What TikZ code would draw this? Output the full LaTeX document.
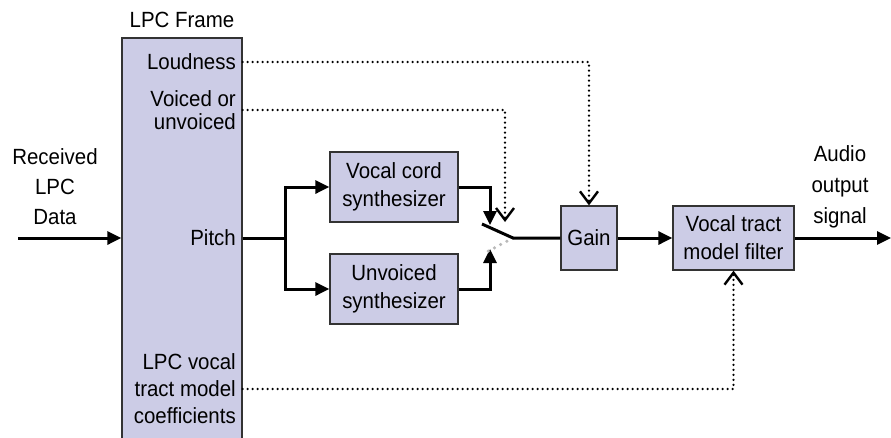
\documentclass[tikz,border=0pt]{standalone}
\usepackage{fontspec}
\setmainfont{Liberation Sans}[FakeStretch=0.93]
\usetikzlibrary{arrows.meta}
\definecolor{lpcblue}{RGB}{204,204,230}
\tikzset{
	block/.style={draw=black!80,line width=1.3pt,fill=lpcblue},	% boxes
	txt/.style={font=\fontsize{22}{28}\selectfont,align=center,inner sep=0pt},
	wire/.style={line width=3pt},				% solid signal path
	sig/.style={line width=2.6pt,line cap=round,dash pattern=on 0pt off 5pt},	% control lines
	tip/.style={-{Triangle[length=14pt,width=13pt]}},
	vtip/.style={-{Straight Barb[length=12pt,width=18pt,line width=2.4pt]}}
}

\begin{document}
\begin{tikzpicture}[x=1pt,y=-1pt]
	\useasboundingbox (0,0) rectangle (891,437);
	% LPC frame, runs off the bottom of the page
	\node[block,minimum width=120,minimum height=407,inner sep=0pt] (frame) at (182,241.5) {};
	\node[txt] (title) at (182,20) {LPC Frame};
	\node[txt,anchor=east] (loud) at (236,62) {Loudness};
	\node[txt,anchor=east,align=right,font=\fontsize{22}{23}\selectfont] (voiced) at (236,110) {Voiced or\\unvoiced};
	\node[txt,anchor=east] (pitch) at (236,238) {Pitch};
	\node[txt,anchor=east,align=right,font=\fontsize{22}{27}\selectfont] (coef) at (236,389) {LPC vocal\\tract model\\coefficients};
	% input
	\node[txt,font=\fontsize{22}{30}\selectfont] (recv) at (55,187) {Received\\LPC\\Data};
	\coordinate (rx) at (18,238);
	\draw[wire,tip] (rx) -- (frame.west |- rx);
	% synthesizers
	\node[block,txt,minimum width=128,minimum height=70] (vocal) at (394,187) {Vocal cord\\synthesizer};
	\node[block,txt,minimum width=128,minimum height=70] (unvoiced) at (394,289) {Unvoiced\\synthesizer};
	\coordinate (fork) at (285,238);
	\draw[wire] (pitch.east -| frame.east) -- (fork);
	\draw[wire,tip] (fork) |- (vocal);
	\draw[wire,tip] (fork) |- (unvoiced);
	% switch
	\coordinate (vin) at (490,225);
	\coordinate (uin) at (490,249);
	\coordinate (swa) at (482,224);
	\coordinate (swb) at (513,238);
	\coordinate (swoff) at (483,254);
	\coordinate (vtop) at (505,222);
	\draw[wire,tip] (vocal.east) -| (vin);
	\draw[wire,tip] (unvoiced.east) -| (uin);
	\draw[line width=3.5pt,line cap=round,dash pattern=on 0pt off 7pt,gray!55] (swb) -- (swoff);
	% gain and filter
	\node[block,txt,minimum width=56,minimum height=64] (gain) at (589,238) {Gain};
	\node[block,txt,minimum width=121,minimum height=64] (filter) at (733.5,238) {Vocal tract\\model filter};
	\draw[wire] (swa) -- (swb) -- (gain.west);
	\draw[wire,tip] (gain) -- (filter);
	\coordinate (out) at (891,238);
	\draw[wire,tip] (filter) -- (out);
	\node[txt,font=\fontsize{22}{31}\selectfont] (audio) at (840,187) {Audio\\output\\signal};
	% control lines
	\draw[sig,vtip] (loud.east -| frame.east) -| (gain.north);
	\draw[sig,vtip] (voiced.east -| frame.east) -| (vtop);
	\draw[sig,vtip] (coef.east -| frame.east) -| (filter.south);
\end{tikzpicture}
\end{document}
